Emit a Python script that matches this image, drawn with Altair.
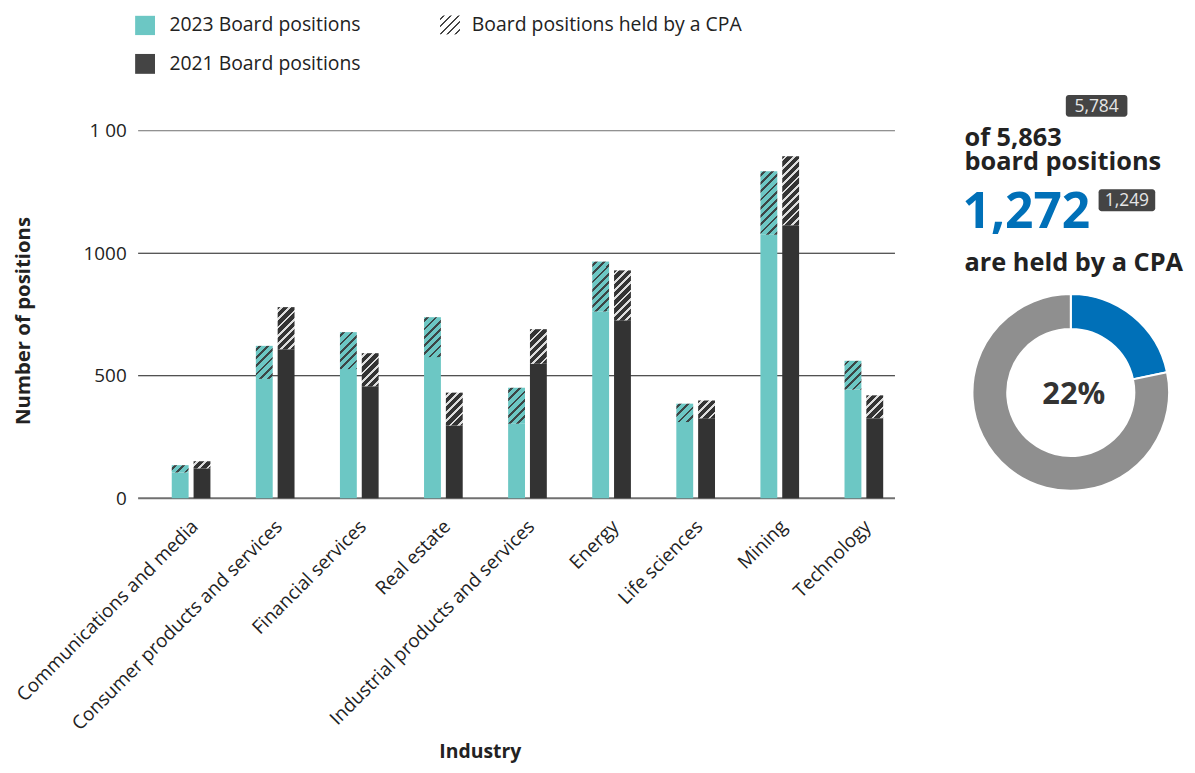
import altair as alt
import pandas as pd

# ---------------- data ----------------
industries = ["Communications and media", "Consumer products and services",
              "Financial services", "Real estate", "Industrial products and services",
              "Energy", "Life sciences", "Mining", "Technology"]
total_2023 = [135, 622, 678, 739, 451, 966, 386, 1335, 561]
cpa_2023 = [30, 135, 151, 163, 147, 204, 75, 260, 118]
total_2021 = [151, 780, 592, 431, 690, 930, 399, 1396, 420]
cpa_2021 = [29, 172, 135, 134, 141, 204, 73, 282, 93]
years = ["2023", "2021"]
legend_labels = ["2023 Board positions", "2021 Board positions"]
hatch_label = ["Board positions held by a CPA"]
y_ticks = [0, 500, 1000, 1500]
donut_labels = ["Held by a CPA", "Not held by a CPA"]
donut_values = [1272, 4591]
badge_2021_total = ["5,784"]
badge_2021_cpa = ["1,249"]
headline_lines = ["of 5,863", "board positions"]
headline_number = ["1,272"]
headline_tail = ["are held by a CPA"]
donut_center_text = ["22%"]

# ---------------- style ----------------
FONT = "Open Sans"
TEAL = "#6cc7c4"
DARK = "#333333"
BLUE = "#0070b8"
GRAY = "#8f8f8f"
TXT = "#222222"
W, H = 762, 370
YMAX = 1500
BAR_W = 17.0

rows = []
for i, ind in enumerate(industries):
    rows.append({"industry": ind, "year": "2023", "total": total_2023[i],
                 "cpa": cpa_2023[i], "base": total_2023[i] - cpa_2023[i]})
    rows.append({"industry": ind, "year": "2021", "total": total_2021[i],
                 "cpa": cpa_2021[i], "base": total_2021[i] - cpa_2021[i]})
df = pd.DataFrame(rows)


def hatch_gradient(w, h, base, line, period=8.3, lw=2.8):
    h = max(h, 1.0)
    tot = w + h
    c = (1 / h + 1 / w) / (1 / h ** 2 + 1 / w ** 2)
    stops = [(0.0, base)]
    k = 0
    while True:
        center = period / 2 + k * period
        a, b = center - lw / 2, center + lw / 2
        if a >= tot:
            break
        ao, bo = max(a / tot, 0.0), min(b / tot, 1.0)
        stops += [(ao, base), (ao, line), (bo, line), (bo, base)]
        k += 1
    stops.append((1.0, base))
    return alt.LinearGradient(
        gradient="linear", x1=0, y1=0, x2=c / h, y2=c / w,
        stops=[alt.GradientStop(offset=round(o, 5), color=col) for o, col in stops])


x_axis = alt.Axis(title="Industry", labelAngle=-45, labelAlign="right",
                  labelBaseline="middle", labelPadding=25, labelOffset=4, labelFontSize=19,
                  labelFont=FONT, labelColor=TXT, labelLimit=0,
                  domain=False, ticks=False, grid=False,
                  titleX=333, titleY=261.5, titleAlign="center", titleBaseline="alphabetic",
                  titleFont=FONT, titleFontSize=19.5, titleFontWeight="bold", titleColor=TXT)
y_axis = alt.Axis(title="Number of positions", values=y_ticks,
                  labelExpr="datum.value == 1500 ? '1 00' : format(datum.value, 'd')",
                  labelFont=FONT, labelFontSize=19, labelColor=TXT, labelPadding=23,
                  domain=False, ticks=False, grid=False,
                  titleX=-120.5, titleY=191, titleAngle=-90, titleAlign="center",
                  titleBaseline="alphabetic", titleFont=FONT, titleFontSize=20.5,
                  titleFontWeight="bold", titleColor=TXT)

x_enc = alt.X("industry:N", sort=industries,
              scale=alt.Scale(domain=industries, paddingInner=0.54, paddingOuter=0.27),
              axis=x_axis)
xo_enc = alt.XOffset("year:N", sort=years,
                     scale=alt.Scale(domain=years, paddingInner=0.227, paddingOuter=0))
y_scale = alt.Scale(domain=[0, YMAX], nice=False)

# gridlines (extend 11px left of the first band)
grid_df = pd.DataFrame({"v": y_ticks})
gridlines = alt.Chart(grid_df).mark_rule().encode(
    y=alt.Y("v:Q", scale=y_scale, axis=y_axis),
    x=alt.value(-11), x2=alt.value(W - 11),
    color=alt.condition((alt.datum.v == 0) | (alt.datum.v == 1500),
                        alt.value("#707070"), alt.value("#1a1a1a")),
    strokeWidth=alt.condition(alt.datum.v == 0, alt.value(2), alt.value(1)),
)

base_bars = alt.Chart(df).mark_bar().encode(
    x=x_enc, xOffset=xo_enc,
    y=alt.Y("base:Q", scale=y_scale, axis=y_axis, stack=None),
    color=alt.Color("year:N", scale=alt.Scale(domain=years, range=[TEAL, DARK]), legend=None),
)

layers = [gridlines, base_bars]
for r in rows:
    hpx = r["cpa"] * H / YMAX
    if r["year"] == "2023":
        grad = hatch_gradient(BAR_W, hpx, TEAL, "#3c4646")
    else:
        grad = hatch_gradient(BAR_W, hpx, DARK, "#dcdcdc")
    layers.append(
        alt.Chart(df).transform_filter(
            (alt.datum.industry == r["industry"]) & (alt.datum.year == r["year"])
        ).mark_bar(fill=grad).encode(
            x=x_enc, xOffset=xo_enc,
            y=alt.Y("total:Q", scale=y_scale, axis=y_axis, stack=None),
            y2="base:Q",
        )
    )

# ---------------- legend (drawn by hand) ----------------
leg_df = pd.DataFrame({"label": legend_labels})
leg_sq_teal = alt.Chart(leg_df).transform_filter(alt.datum.label == legend_labels[0]).mark_rect(
    color=TEAL).encode(x=alt.value(-14), x2=alt.value(6), y=alt.value(-115.7), y2=alt.value(-96.3))
leg_sq_dark = alt.Chart(leg_df).transform_filter(alt.datum.label == legend_labels[1]).mark_rect(
    color="#444444").encode(x=alt.value(-14), x2=alt.value(6), y=alt.value(-77.3), y2=alt.value(-57.3))
leg_t1 = alt.Chart(leg_df).transform_filter(alt.datum.label == legend_labels[0]).mark_text(
    align="left", baseline="middle", font=FONT, fontSize=19.5, color=TXT).encode(
    x=alt.value(20.5), y=alt.value(-106.5), text="label:N")
leg_t2 = alt.Chart(leg_df).transform_filter(alt.datum.label == legend_labels[1]).mark_text(
    align="left", baseline="middle", font=FONT, fontSize=19.5, color=TXT).encode(
    x=alt.value(20.5), y=alt.value(-67.5), text="label:N")
hatch_df = pd.DataFrame({"label": hatch_label})
leg_hatch = alt.Chart(hatch_df).mark_rect(
    fill=hatch_gradient(20, 19, "#ffffff", "#444444", period=7.5, lw=2.0)).encode(
    x=alt.value(293), x2=alt.value(313), y=alt.value(-116), y2=alt.value(-97))
leg_t3 = alt.Chart(hatch_df).mark_text(
    align="left", baseline="middle", font=FONT, fontSize=19.5, color=TXT).encode(
    x=alt.value(325), y=alt.value(-106.5), text="label:N")

# ---------------- right-hand summary ----------------
def badge(texts, x0, x1, y0, y1):
    d = pd.DataFrame({"t": texts})
    box = alt.Chart(d).mark_rect(color="#444444", cornerRadius=3).encode(
        x=alt.value(x0), x2=alt.value(x1), y=alt.value(y0), y2=alt.value(y1))
    txt = alt.Chart(d).mark_text(align="center", baseline="middle", font=FONT,
                                 fontSize=17.5, color="#e6e6e6").encode(
        x=alt.value((x0 + x1) / 2), y=alt.value((y0 + y1) / 2 + 1), text="t:N")
    return [box, txt]


def label(texts, x, y, size, color=TXT, weight="bold", align="left", baseline="alphabetic"):
    d = pd.DataFrame({"t": texts})
    return alt.Chart(d).mark_text(align=align, baseline=baseline, font=FONT, fontSize=size,
                                  fontWeight=weight, color=color).encode(
        x=alt.value(x), y=alt.value(y), text="t:N")


head_df = pd.DataFrame({"t": [headline_lines]})
head = alt.Chart(head_df).mark_text(
    align="left", baseline="alphabetic", font=FONT, fontSize=25.5, fontWeight="bold",
    lineHeight=24.5, color=TXT).encode(x=alt.value(821), y=alt.value(15), text="t")

summary = badge(badge_2021_total, 923, 985, -36, -14) + [head] + [
    label(headline_number, 819, 98, 50, color=BLUE)] + badge(badge_2021_cpa, 956, 1013, 59, 81) + [
    label(headline_tail, 821, 141, 25.5)]

donut_df = pd.DataFrame({"label": donut_labels, "value": donut_values, "order": [0, 1]})
donut = alt.Chart(donut_df).mark_arc(innerRadius=64, outerRadius=99, stroke="white",
                                     strokeWidth=2).encode(
    theta=alt.Theta("value:Q", stack=True),
    order=alt.Order("order:Q"),
    color=alt.Color("label:N", scale=alt.Scale(domain=donut_labels, range=[BLUE, GRAY]),
                    legend=None),
    x=alt.value(928), y=alt.value(263.5),
)
donut_txt = label(donut_center_text, 931, 266, 31, color="#333333",
                  align="center", baseline="middle")

chart = alt.layer(
    *layers, leg_sq_teal, leg_sq_dark, leg_t1, leg_t2, leg_hatch, leg_t3,
    *summary, donut, donut_txt
).resolve_scale(color="independent").properties(
    width=W, height=H,
    autosize=alt.AutoSizeParams(type="none"),
    padding={"left": 142, "top": 121, "right": 283, "bottom": 266},
    background="white",
).configure_view(stroke=None)

chart.save("out.html", embed_options={"renderer": "svg", "actions": False})
